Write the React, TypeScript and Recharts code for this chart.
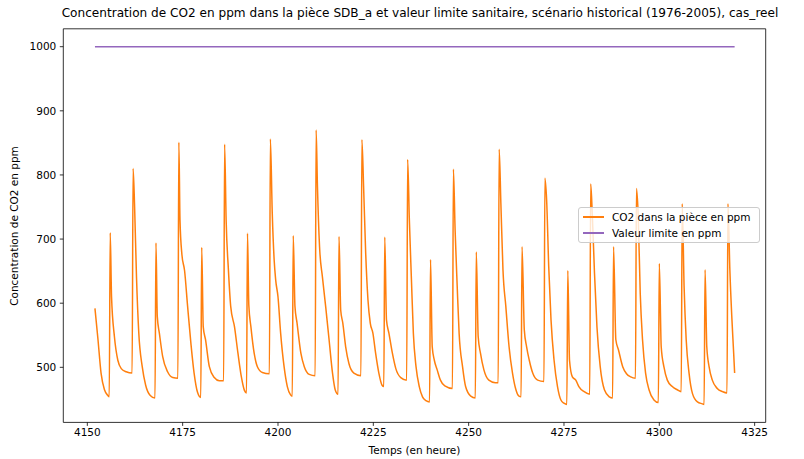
import React from 'react';
import { LineChart, Line, XAxis, YAxis, Legend, ReferenceLine } from 'recharts';

const FONT = '"DejaVu Sans", sans-serif';

const title =
  'Concentration de CO2 en ppm dans la pièce SDB_a et valeur limite sanitaire, scénario historical (1976-2005), cas_reel';
const xLabel = 'Temps (en heure)';
const yLabel = 'Concentration de CO2 en ppm';
const seriesNames = ['CO2 dans la pièce en ppm', 'Valeur limite en ppm'];
const seriesColors = ['#ff7f0e', '#9467bd'];

const xTicks = [4150, 4175, 4200, 4225, 4250, 4275, 4300, 4325];
const yTicks = [500, 600, 700, 800, 900, 1000];
const xDomain = [4143.7, 4327.9];
const yDomain = [414.1, 1027.9];

const hours: number[] = [
  4152, 4152.8, 4153.6, 4154.5, 4155.4, 4155.75,
  4156, 4156.35, 4157.1, 4158, 4158.9, 4160.2, 4161.75,
  4162, 4162.4, 4162.9, 4163.5, 4164.4, 4165.3, 4166.5, 4167.75,
  4168, 4168.35, 4168.9, 4169.75, 4171.05, 4172.4, 4173.75,
  4174, 4174.3, 4174.8, 4175.5, 4176.3, 4177.2, 4178, 4178.9, 4179.75,
  4180, 4180.4, 4181, 4182, 4183.3, 4184.6, 4185.75,
  4186, 4186.4, 4187, 4187.6, 4188.6, 4189.5, 4190.4, 4191.2, 4191.75,
  4192, 4192.35, 4192.9, 4193.75, 4194.6, 4195.9, 4197.75,
  4198, 4198.5, 4199, 4199.4, 4200, 4200.7, 4201.6, 4202.45, 4203.3, 4203.75,
  4204, 4204.45, 4205, 4206, 4206.9, 4208.2, 4209.75,
  4210, 4210.35, 4210.9, 4211.65, 4212.5, 4213.4, 4214.3, 4215, 4215.75,
  4216, 4216.45, 4217, 4217.75, 4218.6, 4219.9, 4221.75,
  4222, 4222.45, 4223, 4223.6, 4224.2, 4224.9, 4225.6, 4226.45, 4227.3, 4227.75,
  4228, 4228.45, 4229.1, 4230, 4230.9, 4232.2, 4233.75,
  4234, 4234.45, 4235, 4235.5, 4236.2, 4237.05, 4237.9, 4238.8, 4239.75,
  4240, 4240.45, 4241, 4241.75, 4242.6, 4243.75, 4245.75,
  4246, 4246.45, 4247, 4247.5, 4248.4, 4249.2, 4250.55, 4251.75,
  4252, 4252.5, 4253.1, 4254, 4255.3, 4257, 4257.75,
  4258, 4258.45, 4259, 4259.75, 4260.6, 4261.5, 4262.4, 4263.2, 4263.75,
  4264, 4264.6, 4265.2, 4265.9, 4266.8, 4268.1, 4269.75,
  4270, 4270.45, 4271, 4271.6, 4272.4, 4273.3, 4274.2, 4275, 4275.75,
  4276, 4276.45, 4277.2, 4278.1, 4278.9, 4280.3, 4281.75,
  4282, 4282.35, 4283, 4283.65, 4284.5, 4285.6, 4286.9, 4287.75,
  4288, 4288.6, 4289.3, 4290.4, 4291.4, 4292.5, 4293.75,
  4294, 4294.45, 4295, 4295.6, 4296.4, 4297.3, 4298.6, 4299.75,
  4300, 4300.5, 4301.2, 4302.1, 4303.4, 4304.7, 4305.75,
  4306, 4306.5, 4307.05, 4307.8, 4308.7, 4310, 4311.3, 4311.75,
  4312, 4312.45, 4313.05, 4313.9, 4315.2, 4316.6, 4317.75,
  4318, 4318.5, 4319.05, 4319.5, 4319.75,
];

const co2: number[] = [
  592, 543, 491, 465, 456, 454,
  710, 610, 548, 511, 498, 493, 491,
  810, 750, 640, 553, 501, 472, 456, 452,
  694, 579, 553, 517, 493, 484, 483,
  851, 730, 676, 651, 595, 535, 491, 461, 453,
  687, 563, 543, 501, 484, 479, 479,
  848, 730, 652, 595, 563, 522, 485, 464, 460,
  709, 597, 563, 522, 501, 492, 490,
  856, 740, 667, 636, 610, 553, 501, 470, 457, 455,
  705, 595, 569, 522, 501, 489, 487,
  870, 782, 688, 641, 595, 543, 491, 465, 458,
  704, 589, 569, 532, 506, 491, 487,
  855, 782, 678, 605, 569, 553, 522, 491, 472, 470,
  703, 574, 553, 522, 498, 484, 480,
  824, 730, 636, 553, 501, 470, 454, 448, 446,
  668, 532, 511, 496, 480, 471, 467,
  809, 714, 626, 553, 501, 470, 455, 452,
  680, 548, 522, 496, 480, 476, 476,
  840, 756, 652, 595, 532, 491, 465, 455, 454,
  688, 558, 532, 511, 491, 480, 478,
  795, 761, 657, 574, 511, 470, 449, 444, 442,
  651, 511, 485, 480, 470, 462, 458,
  786, 750, 647, 563, 501, 465, 454, 452,
  688, 543, 527, 501, 490, 485, 483,
  779, 740, 615, 543, 491, 465, 449, 445,
  662, 532, 501, 480, 470, 465, 462,
  755, 626, 543, 491, 459, 446, 443, 442,
  652, 532, 501, 480, 467, 462, 460,
  755, 652, 574, 522, 491,
];

const limitHours: number[] = [4152, 4319.75];
const limitValues: number[] = [1000, 1000];

const co2Data = hours.map((t, i) => ({ t, v: co2[i] }));
const limitData = limitHours.map((t, i) => ({ t, v: limitValues[i] }));

const LegendBox = () => (
  <div
    style={{
      width: 180,
      height: 34,
      border: '1px solid #cccccc',
      borderRadius: 3,
      background: 'rgba(255,255,255,0.8)',
      fontFamily: FONT,
      fontSize: 10.5,
      color: '#000',
      position: 'relative',
    }}
  >
    {seriesNames.map((name, i) => (
      <div
        key={name}
        style={{ position: 'absolute', left: 0, top: 2 + i * 16, height: 14, width: 180 }}
      >
        <div
          style={{
            position: 'absolute',
            left: 4,
            top: 6,
            width: 21,
            height: 1.5,
            background: seriesColors[i],
          }}
        />
        <div style={{ position: 'absolute', left: 33, top: 0, lineHeight: '14px', whiteSpace: 'nowrap' }}>
          {name}
        </div>
      </div>
    ))}
  </div>
);

export default function App() {
  const tickStyle = { fontSize: 10.5, fill: '#000', fontFamily: FONT };
  return (
    <div
      style={{
        position: 'absolute',
        left: 0,
        top: 0,
        width: 804,
        height: 459,
        background: '#fff',
        overflow: 'hidden',
        fontFamily: FONT,
      }}
    >
      <div
        style={{
          position: 'absolute',
          left: 420,
          top: 6,
          transform: 'translateX(-50%)',
          whiteSpace: 'nowrap',
          fontSize: 12.1,
          lineHeight: '14px',
          color: '#000',
        }}
      >
        {title}
      </div>
      <div
        style={{
          position: 'absolute',
          left: 414.5,
          top: 444,
          transform: 'translateX(-50%)',
          whiteSpace: 'nowrap',
          fontSize: 10.5,
          lineHeight: '12px',
          color: '#000',
        }}
      >
        {xLabel}
      </div>
      <div
        style={{
          position: 'absolute',
          left: 14,
          top: 226,
          transform: 'translate(-50%, -50%) rotate(-90deg)',
          whiteSpace: 'nowrap',
          fontSize: 10.5,
          lineHeight: '12px',
          color: '#000',
        }}
      >
        {yLabel}
      </div>
      <LineChart
        width={804}
        height={459}
        margin={{ top: 28.8, right: 38.3, bottom: 0, left: 0 }}
        style={{ position: 'absolute', left: 0, top: 0 }}
      >
        <XAxis
          dataKey="t"
          type="number"
          domain={xDomain}
          ticks={xTicks}
          allowDataOverflow
          height={36.6}
          tickSize={3.5}
          tickMargin={3}
          tick={tickStyle}
          axisLine={{ stroke: '#000', strokeWidth: 0.8 }}
          tickLine={{ stroke: '#000', strokeWidth: 0.8 }}
        />
        <YAxis
          type="number"
          domain={yDomain}
          ticks={yTicks}
          allowDataOverflow
          width={63.3}
          tickSize={3.5}
          tickMargin={3.5}
          tick={tickStyle}
          axisLine={{ stroke: '#000', strokeWidth: 0.8 }}
          tickLine={{ stroke: '#000', strokeWidth: 0.8 }}
        />
        <ReferenceLine y={yDomain[1]} stroke="#000" strokeWidth={0.8} />
        <ReferenceLine x={xDomain[1]} stroke="#000" strokeWidth={0.8} />
        <Line
          data={co2Data}
          dataKey="v"
          name={seriesNames[0]}
          type="monotoneX"
          stroke={seriesColors[0]}
          strokeWidth={1.5}
          dot={false}
          activeDot={false}
          isAnimationActive={false}
        />
        <Line
          data={limitData}
          dataKey="v"
          name={seriesNames[1]}
          type="linear"
          stroke={seriesColors[1]}
          strokeWidth={1.5}
          dot={false}
          activeDot={false}
          isAnimationActive={false}
        />
        <Legend
          layout="vertical"
          align="center"
          verticalAlign="middle"
          content={() => <LegendBox />}
          wrapperStyle={{ left: 578, top: 207, width: 182, height: 36 }}
        />
      </LineChart>
    </div>
  );
}
